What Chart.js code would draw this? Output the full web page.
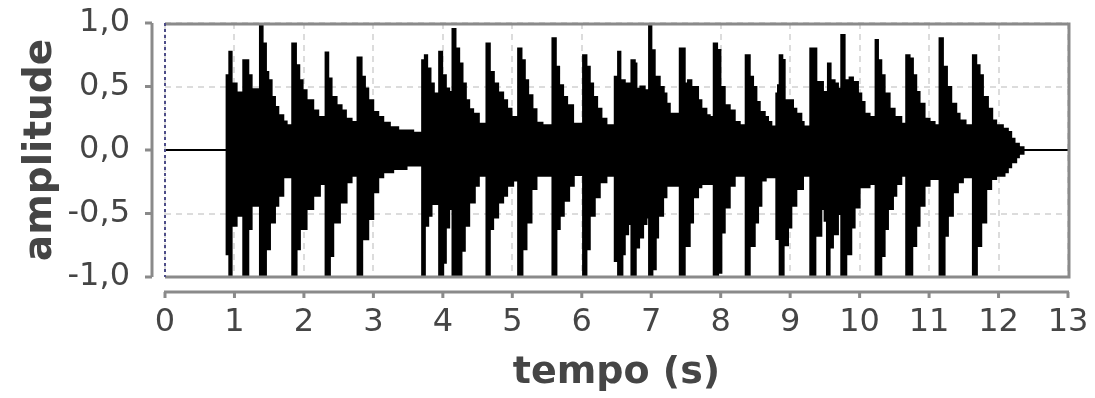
<!DOCTYPE html>
<html>
<head>
<meta charset="utf-8">
<script src="https://cdn.jsdelivr.net/npm/chart.js@4.4.0/dist/chart.umd.min.js"></script>
<style>
html,body{margin:0;padding:0;background:#fff;}
canvas{display:block;}
</style>
</head>
<body>
<canvas id="c" width="1095" height="398" style="width:1095px;height:398px"></canvas>
<script>
// ---- data (envelope of the waveform, stepped) ----
const upperTimes = [0,0.887,0.926,0.959,1.031,1.127,1.199,1.247,1.367,1.405,1.453,1.487,1.535,1.583,1.631,1.703,1.751,
 1.832,1.885,1.933,1.981,2.038,2.134,2.206,2.312,2.350,2.398,2.470,2.542,2.604,2.686,2.772,2.830,2.878,2.926,2.998,3.070,
 3.142,3.237,3.357,3.573,3.702,3.741,3.774,3.822,3.870,3.947,3.990,4.043,4.091,4.139,4.182,4.235,4.283,4.331,4.379,4.436,
 4.518,4.628,4.676,4.734,4.796,4.868,4.925,4.988,5.084,5.132,5.180,5.228,5.290,5.348,5.434,5.578,5.626,5.674,5.731,5.789,
 5.875,6.019,6.067,6.115,6.163,6.221,6.283,6.355,6.475,6.523,6.556,6.619,6.715,6.763,6.787,6.844,6.906,6.969,7.002,7.050,
 7.122,7.180,7.219,7.267,7.387,7.411,7.482,7.530,7.578,7.674,7.722,7.794,7.842,7.900,7.948,7.996,8.058,8.130,8.202,8.274,
 8.360,8.418,8.466,8.514,8.562,8.634,8.681,8.729,8.801,8.825,8.849,8.887,8.921,9.041,9.089,9.161,9.194,9.290,9.377,9.472,
 9.544,9.582,9.640,9.688,9.736,9.784,9.856,9.904,9.976,10.024,10.071,10.143,10.230,10.264,10.312,10.360,10.432,10.504,
 10.600,10.671,10.719,10.767,10.815,10.863,10.935,11.007,11.079,11.151,11.199,11.257,11.319,11.391,11.439,11.525,11.631,
 11.679,11.727,11.775,11.847,11.909,11.966,12.062,12.134,12.182,12.230,12.293,12.360,13];
const upperValues = [0,0.589,0.773,0.523,0.452,0.707,0.589,0.478,1.0,0.839,0.615,0.549,0.418,0.339,0.273,0.225,0.194,
 0.839,0.668,0.549,0.470,0.391,0.312,0.260,0.768,0.563,0.418,0.352,0.312,0.246,0.220,0.729,0.576,0.484,0.391,0.299,0.260,
 0.215,0.180,0.154,0.136,0.707,0.747,0.642,0.523,0.444,0.773,0.589,0.484,0.457,0.953,0.800,0.681,0.523,0.391,0.320,0.286,
 0.207,0.839,0.615,0.523,0.452,0.391,0.325,0.260,0.800,0.707,0.549,0.431,0.320,0.215,0.194,0.879,0.655,0.510,0.418,0.352,
 0.207,0.747,0.655,0.523,0.418,0.325,0.246,0.194,0.576,0.773,0.549,0.523,0.707,0.681,0.483,0.500,0.470,1.0,0.786,0.576,
 0.497,0.444,0.365,0.286,0.260,0.800,0.523,0.549,0.497,0.391,0.325,0.273,0.260,0.839,0.787,0.497,0.352,0.312,0.220,0.194,
 0.747,0.576,0.497,0.378,0.299,0.260,0.220,0.186,0.444,0.510,0.747,0.708,0.391,0.325,0.286,0.220,0.186,0.800,0.536,0.457,
 0.681,0.549,0.523,0.483,0.905,0.549,0.570,0.536,0.444,0.378,0.286,0.260,0.866,0.707,0.589,0.444,0.325,0.260,
 0.207,0.747,0.721,0.589,0.457,0.365,0.246,0.220,0.194,0.879,0.655,0.497,0.365,0.286,0.233,0.194,0.747,
 0.668,0.589,0.418,0.325,0.233,0.194,0.167,0.141,0.088,0.049,0.022,0,0];

const lowerTimes = [0,0.887,0.926,0.959,1.031,1.127,1.199,1.247,1.367,1.453,1.511,1.583,1.631,1.703,1.832,1.894,1.942,
 2.038,2.134,2.230,2.312,2.374,2.422,2.518,2.614,2.686,2.772,2.839,2.926,2.998,3.070,3.142,3.285,3.477,3.702,3.741,3.789,
 3.837,3.947,4.005,4.043,4.091,4.139,4.268,4.316,4.379,4.460,4.518,4.628,4.676,4.724,4.796,4.868,4.925,5.012,5.084,5.146,
 5.204,5.276,5.348,5.578,5.635,5.683,5.741,5.818,5.885,6.019,6.067,6.115,6.187,6.259,6.355,6.475,6.523,6.585,6.619,6.667,
 6.715,6.777,6.825,6.883,6.931,6.969,7.017,7.065,7.099,7.171,7.219,7.411,7.482,7.554,7.602,7.674,7.722,7.900,7.962,8.010,
 8.058,8.130,8.202,8.360,8.418,8.490,8.538,8.586,8.648,8.801,8.849,8.906,8.969,9.017,9.089,9.185,9.290,9.363,9.449,9.496,
 9.530,9.568,9.616,9.688,9.736,9.808,9.880,9.928,10.000,10.143,10.230,10.312,10.360,10.408,10.480,10.528,10.600,10.671,
 10.758,10.815,10.863,10.935,11.007,11.151,11.223,11.271,11.343,11.415,11.487,11.631,11.688,11.751,11.823,11.894,11.966,
 12.086,12.134,12.182,12.254,12.293,12.360,13];
const lowerValues = [0,-0.821,-1.0,-0.597,-0.518,-1.0,-0.623,-0.439,-1.0,-0.781,-0.571,-0.439,-0.360,-0.215,-1.0,-0.781,-0.623,
 -0.465,-0.360,-0.268,-1.0,-0.834,-0.571,-0.413,-0.254,-0.202,-1.0,-0.702,-0.544,-0.333,-0.215,-0.175,-0.149,-0.122,-1.0,-0.597,-0.518,
 -0.426,-1.0,-0.887,-0.610,-0.465,-1.0,-0.794,-0.597,-0.413,-0.281,-0.202,-1.0,-0.623,-0.531,-0.413,-0.360,-0.281,-0.241,-1.0,-0.781,
 -0.571,-0.307,-0.202,-1.0,-0.623,-0.518,-0.399,-0.281,-0.196,-1.0,-0.781,-0.518,-0.373,-0.254,-0.202,-0.874,-1.0,-0.820,-0.663,-0.583,
 -1.0,-0.768,-0.689,-0.583,-0.531,-1.0,-0.939,-0.689,-0.518,-0.373,-0.281,-1.0,-0.755,-0.571,-0.373,-0.294,-0.268,-1.0,-0.966,-0.650,
 -0.452,-0.281,-0.202,-1.0,-0.755,-0.571,-0.439,-0.241,-0.215,-0.700,-1.0,-0.750,-0.610,-0.439,-0.307,-0.202,-1.0,-0.676,-0.465,-0.557,
 -1.0,-0.768,-0.663,-0.504,-1.0,-0.821,-0.610,-0.452,-0.294,-0.268,-1.0,-0.834,-0.623,-0.465,-0.360,-0.268,-0.202,-1.0,
 -0.755,-0.597,-0.439,-0.281,-0.228,-1.0,-0.676,-0.518,-0.333,-0.254,-0.215,-1.0,-0.755,-0.571,-0.307,-0.228,-0.202,
 -0.175,-0.136,-0.096,-0.057,-0.030,0,0];

const xTickValues = [0,1,2,3,4,5,6,7,8,9,10,11,12,13];
const xTickLabels = ['0','1','2','3','4','5','6','7','8','9','10','11','12','13'];
const yTickValues = [-1,-0.5,0,0.5,1];
const yTickLabels = ['-1,0','-0,5','0,0','0,5','1,0'];

const FONT = "'DejaVu Sans', sans-serif";
const toPts = (ts, vs) => ts.map((t, i) => ({x: t, y: vs[i]}));

const axesPlugin = {
  id: 'axesPlugin',
  afterDraw(chart) {
    const {ctx, chartArea: a, scales: {x, y}} = chart;
    ctx.save();
    // plot frame
    ctx.strokeStyle = '#8a8a8a';
    ctx.lineWidth = 3;
    ctx.beginPath();
    ctx.moveTo(a.left, a.top + 1); ctx.lineTo(a.right + 1, a.top + 1);
    ctx.lineTo(a.right + 1, a.bottom); ctx.lineTo(a.left, a.bottom);
    ctx.stroke();
    ctx.strokeStyle = '#4d4d88';
    ctx.lineWidth = 2;
    ctx.setLineDash([3, 3]);
    ctx.beginPath(); ctx.moveTo(a.left, a.top); ctx.lineTo(a.left, a.bottom); ctx.stroke();
    ctx.setLineDash([]);
    // detached y axis
    ctx.strokeStyle = '#8a8a8a';
    ctx.lineWidth = 3;
    const yx = a.left - 13;
    ctx.beginPath(); ctx.moveTo(yx, y.getPixelForValue(1)); ctx.lineTo(yx, y.getPixelForValue(-1)); ctx.stroke();
    yTickValues.forEach(v => {
      const p = y.getPixelForValue(v);
      ctx.beginPath(); ctx.moveTo(yx - 7, p); ctx.lineTo(yx, p); ctx.stroke();
    });
    // detached x axis
    const xy = a.bottom + 15;
    ctx.beginPath(); ctx.moveTo(x.getPixelForValue(0) - 1, xy); ctx.lineTo(x.getPixelForValue(13) + 1, xy); ctx.stroke();
    xTickValues.forEach(v => {
      const p = x.getPixelForValue(v);
      ctx.beginPath(); ctx.moveTo(p, xy); ctx.lineTo(p, xy + 6); ctx.stroke();
    });
    ctx.restore();
  }
};

new Chart(document.getElementById('c'), {
  type: 'line',
  data: {
    datasets: [
      {data: toPts(upperTimes, upperValues), borderColor: '#000', backgroundColor: '#000', borderWidth: 2,
       pointRadius: 0, stepped: 'before', fill: '+1'},
      {data: toPts(lowerTimes, lowerValues), borderColor: '#000', backgroundColor: '#000', borderWidth: 2,
       pointRadius: 0, stepped: 'before', fill: false}
    ]
  },
  options: {
    responsive: false,
    animation: false,
    events: [],
    layout: {padding: {top: 23, right: 27, left: 0, bottom: 0}},
    plugins: {legend: {display: false}, tooltip: {enabled: false}},
    scales: {
      x: {
        type: 'linear', min: 0, max: 13,
        afterBuildTicks: s => { s.ticks = xTickValues.map(v => ({value: v})); },
        afterFit: s => { s.height = 121; s.paddingLeft = 0; s.paddingRight = 0; },
        ticks: {
          callback: v => xTickLabels[xTickValues.indexOf(v)],
          font: {family: FONT, size: 32}, color: '#454545', padding: 26, maxRotation: 0, autoSkip: false
        },
        grid: {drawTicks: false, color: '#dcdcdc', lineWidth: 2},
        border: {display: false, dash: [6, 5]},
        title: {display: true, text: 'tempo (s)', color: '#454545',
                font: {family: FONT, size: 38, weight: 'bold'}, padding: {top: 0, bottom: 2}}
      },
      y: {
        min: -1, max: 1,
        afterBuildTicks: s => { s.ticks = yTickValues.map(v => ({value: v})); },
        afterFit: s => { s.width = 165; s.paddingTop = 0; s.paddingBottom = 0; },
        ticks: {
          callback: v => yTickLabels[yTickValues.indexOf(v)],
          font: {family: FONT, size: 32}, color: '#454545', padding: 35, autoSkip: false
        },
        grid: {drawTicks: false, color: '#dcdcdc', lineWidth: 2},
        border: {display: false, dash: [6, 5]},
        title: {display: true, text: 'amplitude', color: '#454545',
                font: {family: FONT, size: 39, weight: 'bold'}, padding: {top: 17, bottom: 0}}
      }
    }
  },
  plugins: [axesPlugin]
});
</script>
</body>
</html>
